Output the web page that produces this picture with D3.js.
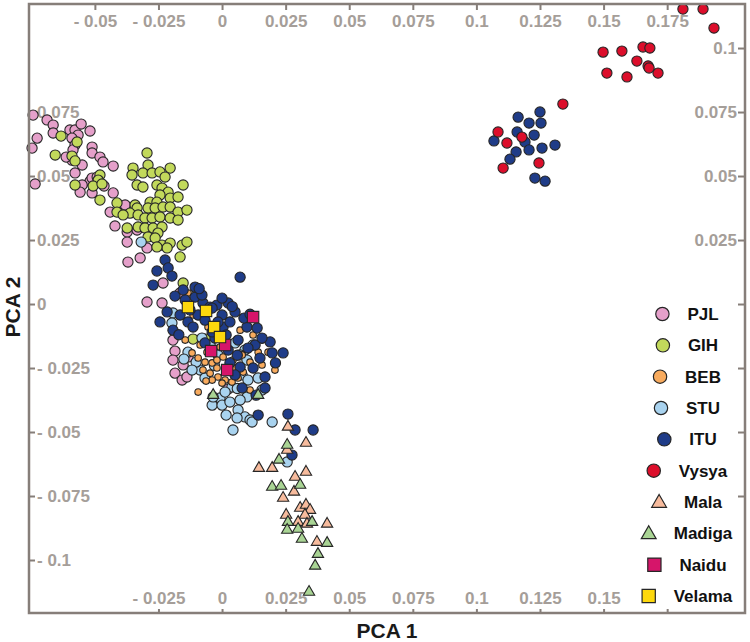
<!DOCTYPE html>
<html>
<head>
<meta charset="utf-8">
<script src="https://cdn.jsdelivr.net/npm/d3@7.9.0/dist/d3.min.js"></script>
<style>
  html, body { margin: 0; padding: 0; background: #fff; }
  svg { display: block; font-family: "Liberation Sans", Arial, sans-serif; }
</style>
</head>
<body>
<div id="chart"></div>
<script>
// PCA 1 / PCA 2 coordinates
const pjl = [
  [-0.0743,0.0738],[-0.0688,0.0719],[-0.0664,0.0699],[-0.0727,0.0648],[-0.0747,0.0609],[-0.0664,0.0668],
  [-0.0598,0.0680],[-0.0578,0.0680],[-0.0554,0.0703],[-0.0519,0.0676],[-0.0566,0.0660],[-0.0590,0.0648],
  [-0.0578,0.0621],[-0.0586,0.0602],[-0.0511,0.0613],[-0.0511,0.0590],[-0.0480,0.0574],[-0.0468,0.0555],
  [-0.0590,0.0562],[-0.0550,0.0543],[-0.0428,0.0539],[-0.0578,0.0512],[-0.0735,0.0469],[-0.0519,0.0480],
  [-0.0550,0.0465],[-0.0558,0.0437],[-0.0511,0.0434],[-0.0428,0.0434],[-0.0381,0.0387],[-0.0440,0.0359],
  [-0.0511,0.0492],[-0.0421,0.0305],[-0.0373,0.0281],[-0.0334,0.0289],[-0.0373,0.0242],[-0.0295,0.0219],
  [-0.0370,0.0164],[-0.0295,0.0008],[-0.0236,0.0004],[-0.0232,0.0082],[-0.0165,0.0043],[-0.0193,-0.0141],
  [-0.0185,-0.0184],[-0.0193,-0.0219],[-0.0153,-0.0238],[-0.0185,-0.0270],[-0.0157,-0.0297],[-0.0138,-0.0285],
  [-0.0134,-0.0207],[0.0024,-0.0332],[-0.0491,0.0496],[-0.0464,0.0461],[-0.0613,0.0574],[-0.0322,0.0180]
];
const gih = [
  [-0.0633,0.0656],[-0.0570,0.0633],[-0.0656,0.0582],[-0.0590,0.0578],[-0.0578,0.0559],[-0.0480,0.0504],
  [-0.0487,0.0484],[-0.0507,0.0461],[-0.0472,0.0469],[-0.0578,0.0465],[-0.0480,0.0406],[-0.0413,0.0395],
  [-0.0350,0.0531],[-0.0354,0.0504],[-0.0334,0.0465],[-0.0342,0.0387],[-0.0295,0.0590],[-0.0291,0.0543],
  [-0.0311,0.0512],[-0.0275,0.0512],[-0.0244,0.0516],[-0.0204,0.0531],[-0.0224,0.0496],[-0.0311,0.0457],
  [-0.0256,0.0465],[-0.0236,0.0453],[-0.0153,0.0465],[-0.0212,0.0437],[-0.0244,0.0426],[-0.0204,0.0414],
  [-0.0173,0.0418],[-0.0283,0.0398],[-0.0256,0.0398],[-0.0291,0.0375],[-0.0263,0.0375],[-0.0232,0.0379],
  [-0.0204,0.0379],[-0.0173,0.0359],[-0.0138,0.0367],[-0.0334,0.0375],[-0.0362,0.0355],[-0.0413,0.0359],
  [-0.0389,0.0348],[-0.0330,0.0348],[-0.0303,0.0336],[-0.0275,0.0336],[-0.0244,0.0340],[-0.0204,0.0336],
  [-0.0173,0.0328],[-0.0373,0.0297],[-0.0330,0.0301],[-0.0303,0.0297],[-0.0271,0.0297],[-0.0236,0.0301],
  [-0.0291,0.0262],[-0.0252,0.0277],[-0.0263,0.0258],[-0.0236,0.0230],[-0.0204,0.0238],[-0.0157,0.0230],
  [-0.0138,0.0242],[-0.0165,0.0184],[-0.0216,0.0219],[-0.0256,0.0223],[-0.0153,0.0082],[-0.0114,-0.0137],
  [-0.0063,-0.0137]
];
const stu = [
  [-0.0193,-0.0035],[-0.0197,-0.0074],[-0.0079,-0.0133],[0.0051,-0.0152],[0.0090,-0.0180],[0.0071,-0.0199],
  [0.0122,-0.0160],[0.0098,-0.0219],[-0.0086,-0.0258],[-0.0067,-0.0289],[0.0079,-0.0277],[0.0102,-0.0297],
  [0.0098,-0.0363],[-0.0008,-0.0367],[-0.0039,-0.0395],[0.0000,-0.0395],[0.0031,-0.0383],[0.0071,-0.0375],
  [0.0063,-0.0414],[0.0090,-0.0441],[0.0059,-0.0445],[0.0110,-0.0453],[0.0197,-0.0461],[0.0043,-0.0492],
  [0.0118,-0.0461],[-0.0134,-0.0188],[-0.0035,-0.0363],[0.0256,-0.0617],[0.0039,-0.0324],[-0.0318,0.0242],
  [-0.0047,-0.0160],[-0.0016,-0.0199],[0.0012,-0.0344],[-0.0102,-0.0227],[-0.0118,-0.0258],[0.0142,-0.0289],
  [0.0157,-0.0336],[0.0016,-0.0434],[-0.0150,-0.0215],[-0.0030,-0.0240],[0.0060,-0.0330]
];
const beb = [
  [-0.0134,0.0043],[-0.0114,-0.0043],[-0.0055,-0.0090],[0.0071,-0.0102],[0.0122,-0.0121],[-0.0118,-0.0191],
  [-0.0094,-0.0211],[-0.0067,-0.0227],[-0.0039,-0.0230],[-0.0020,-0.0250],[-0.0075,-0.0258],[-0.0047,-0.0270],
  [-0.0016,-0.0285],[0.0012,-0.0297],[0.0039,-0.0305],[-0.0039,-0.0297],[0.0000,-0.0309],[-0.0020,-0.0219],
  [0.0004,-0.0207],[0.0043,-0.0219],[0.0079,-0.0199],[0.0110,-0.0227],[0.0157,-0.0238],[0.0110,-0.0336],
  [0.0083,-0.0266],[0.0208,-0.0258],[-0.0094,-0.0344],[0.0181,-0.0188],[-0.0008,-0.0168],[-0.0145,-0.0141],
  [-0.0086,-0.0160],[-0.0059,-0.0188],[0.0024,-0.0266],[0.0063,-0.0289],[-0.0063,-0.0301],[0.0051,-0.0250],
  [0.0157,-0.0141],[0.0142,-0.0188]
];
const itu = [
  [-0.0224,0.0172],[-0.0256,0.0129],[-0.0212,0.0141],[-0.0197,0.0109],[-0.0271,0.0074],[-0.0106,0.0027],
  [-0.0075,0.0004],[-0.0047,-0.0012],[-0.0020,-0.0004],[0.0024,0.0004],[0.0071,0.0105],[-0.0106,0.0066],
  [-0.0079,0.0035],[-0.0244,-0.0070],[-0.0193,-0.0102],[-0.0134,-0.0070],[-0.0094,-0.0043],[-0.0114,-0.0090],
  [0.0004,-0.0090],[0.0031,-0.0070],[0.0051,-0.0031],[0.0098,-0.0090],[0.0138,-0.0094],[0.0130,-0.0160],
  [0.0189,-0.0148],[0.0197,-0.0191],[0.0240,-0.0191],[0.0169,-0.0285],[0.0122,-0.0250],[0.0071,-0.0246],
  [0.0031,-0.0230],[-0.0067,-0.0152],[-0.0028,-0.0133],[0.0142,-0.0434],[0.0259,-0.0430],[0.0287,-0.0492],
  [0.0358,-0.0492],[0.0079,-0.0328],[0.0275,-0.0590],[-0.0039,-0.0016],[0.0000,-0.0043],[-0.0145,0.0016],
  [-0.0126,-0.0023],[-0.0067,-0.0063],[-0.0016,-0.0070],[0.0016,-0.0121],[0.0063,-0.0141],[0.0086,-0.0055],
  [0.0157,-0.0133],[0.0102,-0.0172],[0.0051,-0.0277],[0.0024,-0.0180],[-0.0039,-0.0109],[-0.0165,-0.0043],
  [-0.0216,-0.0031],[-0.0185,0.0031],[0.0000,0.0023],[0.0149,-0.0211],[0.0134,-0.0356],[0.0169,-0.0328],
  [-0.0153,0.0055],[-0.0090,0.0060],[0.0040,-0.0010],[0.0110,-0.0040],[-0.0170,-0.0120],[0.0060,-0.0200],
  [0.0210,-0.0230],
  [0.1250,0.0750],[0.1164,0.0730],[0.1207,0.0707],[0.1254,0.0707],[0.1160,0.0672],[0.1227,0.0660],
  [0.1191,0.0633],[0.1069,0.0637],[0.1207,0.0602],[0.1258,0.0609],[0.1309,0.0621],[0.1156,0.0594],
  [0.1132,0.0566],[0.1230,0.0492],[0.1270,0.0480]
];
const vysya = [
  [0.1340,0.0781],[0.1085,0.0672],[0.1120,0.0629],[0.1179,0.0652],[0.1246,0.0551],[0.1105,0.0531],
  [0.1812,0.1152],[0.1891,0.1152],[0.1934,0.1078],[0.1498,0.0984],[0.1572,0.0988],[0.1655,0.1004],
  [0.1682,0.1000],[0.1631,0.0949],[0.1675,0.0930],[0.1679,0.0922],[0.1714,0.0902],[0.1513,0.0902],
  [0.1592,0.0887]
];
const mala = [
  [0.0259,-0.0480],[0.0330,-0.0543],[0.0256,-0.0570],[0.0145,-0.0641],[0.0197,-0.0641],[0.0330,-0.0656],
  [0.0287,-0.0676],[0.0283,-0.0734],[0.0240,-0.0758],[0.0307,-0.0797],[0.0330,-0.0785],[0.0346,-0.0805],
  [0.0252,-0.0824],[0.0326,-0.0824],[0.0299,-0.0852],[0.0334,-0.0859],[0.0413,-0.0859],[0.0373,-0.0930]
];
const madiga = [
  [0.0142,-0.0356],[0.0256,-0.0551],[0.0224,-0.0609],[0.0197,-0.0715],[0.0232,-0.0711],[0.0307,-0.0707],
  [0.0259,-0.0852],[0.0354,-0.0852],[0.0256,-0.0883],[0.0299,-0.0879],[0.0314,-0.0918],[0.0413,-0.0934],
  [0.0377,-0.0977],[0.0366,-0.1023],[0.0342,-0.1125],[-0.0035,-0.0356]
];
const naidu = [[0.0122,-0.0051],[-0.0043,-0.0184],[0.0012,-0.0160],[0.0020,-0.0258]];
const velama = [[-0.0134,-0.0012],[-0.0063,-0.0027],[-0.0031,-0.0090],[-0.0008,-0.0129]];

const groups = ['PJL', 'GIH', 'BEB', 'STU', 'ITU', 'Vysya', 'Mala', 'Madiga', 'Naidu', 'Velama'];
const groupData = { PJL: pjl, GIH: gih, BEB: beb, STU: stu, ITU: itu, Vysya: vysya, Mala: mala, Madiga: madiga, Naidu: naidu, Velama: velama };
const drawOrder = ['PJL', 'GIH', 'STU', 'BEB', 'ITU', 'Vysya', 'Mala', 'Madiga', 'Naidu', 'Velama'];

const xTopTicks = [-0.05, -0.025, 0, 0.025, 0.05, 0.075, 0.1, 0.125, 0.15, 0.175];
const xBottomTicks = [-0.025, 0, 0.025, 0.05, 0.075, 0.1, 0.125, 0.15, 0.175];
const xBottomLabels = [-0.025, 0, 0.025, 0.05, 0.075, 0.1, 0.125, 0.15];
const yLeftTicks = [0.075, 0.05, 0.025, 0, -0.025, -0.05, -0.075, -0.1];
const yRightTicks = [0.1, 0.075, 0.05, 0.025, 0, -0.025, -0.05, -0.075];
const yRightLabels = [0.1, 0.075, 0.05, 0.025];

// styles
const colors = {
  PJL: '#e5a0ca', GIH: '#c2d95b', BEB: '#f8ab5e', STU: '#a9d3ef', ITU: '#1f3c88',
  Vysya: '#dc0e2b', Mala: '#f7bb9d', Madiga: '#a9d494', Naidu: '#d6156a', Velama: '#fdd80d'
};
const shapes = {
  PJL: d3.symbolCircle, GIH: d3.symbolCircle, BEB: d3.symbolCircle, STU: d3.symbolCircle, ITU: d3.symbolCircle,
  Vysya: d3.symbolCircle, Mala: d3.symbolTriangle, Madiga: d3.symbolTriangle, Naidu: d3.symbolSquare, Velama: d3.symbolSquare
};
const pointSize = { BEB: 34, Mala: 55, Madiga: 55, Naidu: 130, Velama: 130 };
const legendSize = { circle: 140, triangle: 95, square: 175 };

const width = 750;
const height = 642;
const frame = { left: 29, right: 745, top: 4, bottom: 613 };
const axisColor = '#867e79';
const labelColor = '#a59e99';

const xScale = d3.scaleLinear().domain([-0.0759, 0.2056]).range([frame.left, frame.right]);
const yScale = d3.scaleLinear().domain([-0.1207, 0.1172]).range([frame.bottom, frame.top]);

const fmt = d => d < 0 ? '- ' + String(+(-d).toFixed(3)) : String(+d.toFixed(3));

const svg = d3.select('#chart')
  .append('svg')
  .attr('width', width)
  .attr('height', height);

svg.append('rect').attr('width', width).attr('height', height).attr('fill', '#fff');

function styleAxis(g) {
  g.select('.domain').remove();
  g.selectAll('.tick line').attr('stroke', axisColor).attr('stroke-width', 2);
  g.selectAll('.tick text')
    .attr('fill', labelColor)
    .style('font-size', '17px')
    .style('font-weight', 'bold')
    .style('font-family', '"Liberation Sans", Arial, sans-serif');
}

// top axis (labels inside frame)
svg.append('g')
  .attr('transform', `translate(0, ${frame.top})`)
  .call(d3.axisBottom(xScale).tickValues(xTopTicks).tickSize(6).tickPadding(5).tickFormat(fmt))
  .call(styleAxis);

// bottom axis
svg.append('g')
  .attr('transform', `translate(0, ${frame.bottom})`)
  .call(d3.axisTop(xScale).tickValues(xBottomTicks).tickSize(4).tickPadding(5)
    .tickFormat(d => xBottomLabels.includes(d) ? fmt(d) : ''))
  .call(styleAxis);

// left axis
svg.append('g')
  .attr('transform', `translate(${frame.left}, 0)`)
  .call(d3.axisRight(yScale).tickValues(yLeftTicks).tickSize(6).tickPadding(2).tickFormat(fmt))
  .call(styleAxis);

// right axis
svg.append('g')
  .attr('transform', `translate(${frame.right}, 0)`)
  .call(d3.axisLeft(yScale).tickValues(yRightTicks).tickSize(7).tickPadding(1)
    .tickFormat(d => yRightLabels.includes(d) ? fmt(d) : ''))
  .call(styleAxis);

// points
const dots = svg.append('g').attr('class', 'dots');
drawOrder.forEach(name => {
  dots.append('g')
    .selectAll('path')
    .data(groupData[name])
    .join('path')
    .attr('transform', d => `translate(${xScale(d[0])}, ${yScale(d[1])})`)
    .attr('d', d3.symbol().type(shapes[name]).size(pointSize[name] || 82))
    .attr('fill', colors[name])
    .attr('stroke', '#262626')
    .attr('stroke-width', 1.1);
});

// frame
svg.append('rect')
  .attr('x', frame.left)
  .attr('y', frame.top)
  .attr('width', frame.right - frame.left)
  .attr('height', frame.bottom - frame.top)
  .attr('fill', 'none')
  .attr('stroke', axisColor)
  .attr('stroke-width', 2.5);

// axis titles
svg.append('text')
  .attr('x', 387)
  .attr('y', 638)
  .attr('text-anchor', 'middle')
  .attr('font-weight', 'bold')
  .attr('font-size', 21)
  .attr('fill', '#1a1a1a')
  .text('PCA 1');

svg.append('text')
  .attr('transform', 'translate(20, 307) rotate(-90)')
  .attr('text-anchor', 'middle')
  .attr('font-weight', 'bold')
  .attr('font-size', 21)
  .attr('fill', '#1a1a1a')
  .text('PCA 2');

// legend
const legend = svg.append('g').attr('class', 'legend');
const legendY = d3.scalePoint().domain(groups).range([314, 596]);
groups.forEach(name => {
  const row = legend.append('g').attr('transform', `translate(0, ${legendY(name)})`);
  const label = row.append('text')
    .attr('x', 703)
    .attr('dy', '0.35em')
    .attr('text-anchor', 'middle')
    .attr('font-weight', 'bold')
    .attr('font-size', 17)
    .attr('fill', '#111')
    .text(name);
  const w = label.node().getComputedTextLength();
  const kind = shapes[name] === d3.symbolCircle ? 'circle' : shapes[name] === d3.symbolTriangle ? 'triangle' : 'square';
  row.append('path')
    .attr('transform', `translate(${703 - w / 2 - 25}, ${kind === 'triangle' ? 1 : 0})`)
    .attr('d', d3.symbol().type(shapes[name]).size(legendSize[kind]))
    .attr('fill', colors[name])
    .attr('stroke', '#262626')
    .attr('stroke-width', 1.2);
});
</script>
</body>
</html>
